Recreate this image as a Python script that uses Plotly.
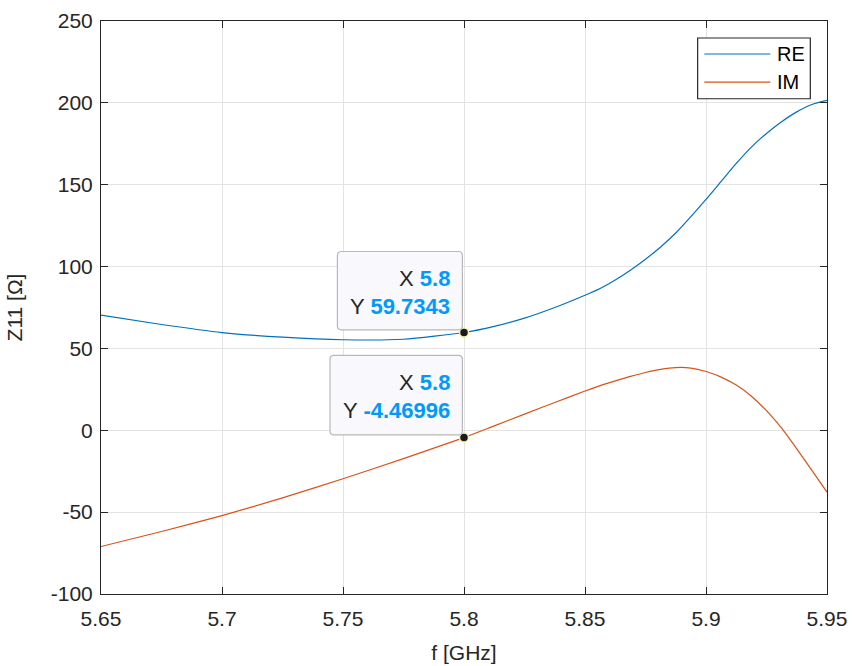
import plotly.graph_objects as go

freq = [5.65, 5.675, 5.70, 5.725, 5.75, 5.775, 5.80, 5.8125, 5.825, 5.8375, 5.85,
        5.85625, 5.8625, 5.86875, 5.875, 5.88125, 5.8875, 5.89375, 5.90, 5.90625,
        5.9125, 5.91875, 5.925, 5.93125, 5.9375, 5.94375, 5.95]
re_vals = [70.3, 64.6, 59.7, 56.9, 55.3, 55.6, 59.7343, 63.5, 68.5, 75.0, 82.5,
           86.6, 91.8, 97.8, 104.5, 112.0, 120.5, 130.5, 141.0, 152.0,
           163.0, 173.0, 181.3, 188.5, 194.5, 199.0, 201.5]
im_vals = [-71.0, -61.8, -52.1, -41.3, -29.6, -17.3, -4.46996, 2.7, 9.9, 17.0, 24.0,
           27.3, 30.2, 32.9, 35.3, 37.2, 38.3, 38.0, 35.9, 32.5,
           27.6, 20.8, 12.0, 1.3, -11.3, -24.5, -37.8]

tip_x = 5.8
tip_re = 59.7343
tip_im = -4.46996

x_ticks = [5.65, 5.7, 5.75, 5.8, 5.85, 5.9, 5.95]
x_tick_text = ["5.65", "5.7", "5.75", "5.8", "5.85", "5.9", "5.95"]
y_ticks = [-100, -50, 0, 50, 100, 150, 200, 250]
y_tick_text = ["-100", "-50", "0", "50", "100", "150", "200", "250"]

C_RE = "#0072BD"
C_IM = "#D95319"
AX = "#262626"
FONT = "Arial, Liberation Sans, sans-serif"

fig = go.Figure()
fig.add_trace(go.Scatter(x=freq, y=re_vals, mode="lines", name="RE",
                         line=dict(color=C_RE, width=1.2, shape="spline", smoothing=0.6),
                         showlegend=False))
fig.add_trace(go.Scatter(x=freq, y=im_vals, mode="lines", name="IM",
                         line=dict(color=C_IM, width=1.2, shape="spline", smoothing=0.6),
                         showlegend=False))

def rounded_path(x0, y0, x1, y1, r):
    return (f"M{x0+r},{y0} L{x1-r},{y0} Q{x1},{y0} {x1},{y0+r} "
            f"L{x1},{y1-r} Q{x1},{y1} {x1-r},{y1} L{x0+r},{y1} "
            f"Q{x0},{y1} {x0},{y1-r} L{x0},{y0+r} Q{x0},{y0} {x0+r},{y0} Z")

shapes = []
annots = []
for yv, xl, ytop in [(tip_re, -126.6, 81.0), (tip_im, -134.0, 82.3)]:
    shapes.append(dict(type="path", xref="x", yref="y", xsizemode="pixel", ysizemode="pixel",
                       xanchor=tip_x, yanchor=yv,
                       path=rounded_path(xl, 2.7, -1.6, ytop, 4),
                       fillcolor="#f8f8fd", line=dict(color="#b8b8b8", width=1.2), layer="above"))
    annots.append(dict(x=tip_x, y=yv, xref="x", yref="y", showarrow=False,
                       xanchor="right", yanchor="middle", xshift=-12, yshift=ytop - 27,
                       text=f"<span style='color:{AX}'>X </span><b><span style='color:#0099ff'>5.8</span></b>",
                       font=dict(size=22, family=FONT)))
    annots.append(dict(x=tip_x, y=yv, xref="x", yref="y", showarrow=False,
                       xanchor="right", yanchor="middle", xshift=-12, yshift=ytop - 55,
                       text=f"<span style='color:{AX}'>Y </span><b><span style='color:#0099ff'>{yv:g}</span></b>",
                       font=dict(size=22, family=FONT)))

fig.add_trace(go.Scatter(x=[tip_x, tip_x], y=[tip_re, tip_im], mode="markers", showlegend=False,
                         marker=dict(color="#1a1a1a", size=9, line=dict(color="#f5f0b0", width=1.5))))

L, R, T, B = 100.5, 826.7, 21.3, 594.0
W, H = 852, 666
def px(x):
    return (x - L) / (R - L)
def py(y):
    return (B - y) / (B - T)
shapes.append(dict(type="rect", xref="paper", yref="paper",
                   x0=px(697.3), x1=px(810), y0=py(99), y1=py(38.3),
                   fillcolor="white", line=dict(color=AX, width=1.2), layer="above"))
for name, col, yy in [("RE", C_RE, 54.3), ("IM", C_IM, 82.3)]:
    shapes.append(dict(type="line", xref="paper", yref="paper",
                       x0=px(704), x1=px(770), y0=py(yy), y1=py(yy),
                       line=dict(color=col, width=1.2), layer="above"))
    annots.append(dict(x=px(775), y=py(yy), xref="paper", yref="paper", showarrow=False,
                       xanchor="left", yanchor="middle", text=name,
                       font=dict(size=20, family=FONT, color="#000000")))

axis_common = dict(showline=True, linecolor=AX, linewidth=1, mirror="ticks",
                   ticks="inside", ticklen=7, tickcolor=AX, showgrid=True,
                   gridcolor="#e3e3e3", gridwidth=1, zeroline=False, automargin=False,
                   tickfont=dict(size=21, family=FONT, color=AX))

fig.update_layout(
    width=W, height=H,
    margin=dict(l=L, r=W - R, t=T, b=H - B, autoexpand=False),
    paper_bgcolor="white", plot_bgcolor="white",
    shapes=shapes, annotations=annots,
    xaxis=dict(range=[5.65, 5.95], tickvals=x_ticks, ticktext=x_tick_text, ticklabelstandoff=6,
               title=dict(text="f [GHz]", font=dict(size=21, family=FONT, color=AX), standoff=16),
               **axis_common),
    yaxis=dict(range=[-100, 250], tickvals=y_ticks, ticktext=y_tick_text, ticklabelstandoff=3,
               title=dict(text="Z11 [Ω]", font=dict(size=21, family=FONT, color=AX), standoff=22),
               **axis_common),
)

fig.write_html("out.html", config={"displayModeBar": False},
               post_script="document.body.style.margin='0';document.body.style.overflow='hidden';")
